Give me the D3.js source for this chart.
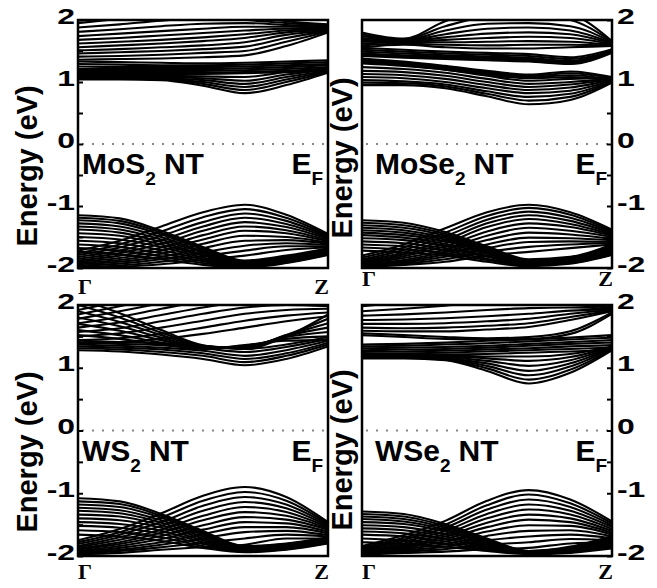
<!DOCTYPE html>
<html><head><meta charset="utf-8">
<script src="https://cdn.jsdelivr.net/npm/d3@7"></script>
<style>body{margin:0;background:#fff}svg{display:block}</style>
</head><body>
<svg id="chart" width="657" height="588"></svg>
<script>
// k-path sample positions from Γ (0) to Z (1)
const kPoints = [0, 0.167, 0.333, 0.5, 0.667, 0.833, 1];
const energyTicks = [-2, -1.5, -1, -0.5, 0, 0.5, 1, 1.5, 2];
const energyLabels = [-2, -1, 0, 1, 2];
const kLabels = ["Γ", "Z"];
const materials = ["MoS", "MoSe", "WS", "WSe"];

// ---------- MoS2 NT ----------
const mos2CondUpper = [
  [1.95, 2.02, 2.10, 2.10, 2.05, 1.98, 1.93],
  [1.88, 1.93, 1.99, 2.02, 2.00, 1.95, 1.91],
  [1.81, 1.85, 1.90, 1.94, 1.95, 1.92, 1.89],
  [1.74, 1.78, 1.82, 1.86, 1.89, 1.89, 1.87],
  [1.68, 1.71, 1.75, 1.79, 1.83, 1.86, 1.86],
  [1.62, 1.65, 1.68, 1.72, 1.77, 1.83, 1.85],
  [1.56, 1.59, 1.62, 1.66, 1.71, 1.80, 1.84],
  [1.51, 1.53, 1.56, 1.59, 1.64, 1.76, 1.83],
  [1.46, 1.48, 1.50, 1.53, 1.57, 1.71, 1.82],
  [1.41, 1.42, 1.44, 1.47, 1.50, 1.65, 1.81],
  [1.36, 1.37, 1.38, 1.40, 1.43, 1.58, 1.80]
];
const mos2CondMid = [
  [1.33, 1.32, 1.31, 1.30, 1.31, 1.33, 1.35],
  [1.29, 1.28, 1.27, 1.27, 1.28, 1.30, 1.32],
  [1.25, 1.24, 1.24, 1.24, 1.25, 1.27, 1.29],
  [1.21, 1.21, 1.21, 1.21, 1.22, 1.24, 1.27],
  [1.18, 1.18, 1.18, 1.18, 1.19, 1.21, 1.24],
  [1.15, 1.15, 1.15, 1.15, 1.16, 1.18, 1.21],
  [1.13, 1.13, 1.13, 1.13, 1.14, 1.16, 1.19]
];
const mos2CondLow = [
  [1.12, 1.11, 1.10, 1.09, 1.08, 1.16, 1.22],
  [1.10, 1.09, 1.08, 1.06, 1.02, 1.12, 1.20],
  [1.08, 1.07, 1.06, 1.03, 0.97, 1.08, 1.18],
  [1.07, 1.06, 1.05, 1.00, 0.92, 1.04, 1.17],
  [1.06, 1.05, 1.04, 0.97, 0.87, 1.00, 1.16],
  [1.04, 1.04, 1.03, 0.94, 0.82, 0.95, 1.15]
];
const mos2ValA = [
  [-1.15, -1.20, -1.40, -1.66, -1.88, -1.80, -1.68],
  [-1.19, -1.24, -1.43, -1.68, -1.89, -1.82, -1.69],
  [-1.23, -1.28, -1.46, -1.70, -1.90, -1.83, -1.70],
  [-1.28, -1.33, -1.50, -1.73, -1.91, -1.84, -1.71],
  [-1.33, -1.38, -1.54, -1.75, -1.92, -1.85, -1.72],
  [-1.38, -1.43, -1.58, -1.78, -1.93, -1.86, -1.73],
  [-1.44, -1.48, -1.62, -1.80, -1.94, -1.87, -1.74],
  [-1.50, -1.54, -1.66, -1.83, -1.95, -1.88, -1.75],
  [-1.56, -1.60, -1.71, -1.86, -1.96, -1.89, -1.76],
  [-1.62, -1.66, -1.76, -1.89, -1.97, -1.90, -1.77],
  [-1.68, -1.72, -1.81, -1.92, -1.98, -1.91, -1.78],
  [-1.74, -1.78, -1.86, -1.95, -1.99, -1.92, -1.79]
];
const mos2ValB = [
  [-1.72, -1.56, -1.33, -1.10, -0.98, -1.14, -1.45],
  [-1.76, -1.62, -1.41, -1.18, -1.05, -1.19, -1.47],
  [-1.79, -1.67, -1.48, -1.26, -1.12, -1.24, -1.49],
  [-1.82, -1.72, -1.55, -1.33, -1.19, -1.29, -1.51],
  [-1.85, -1.76, -1.61, -1.40, -1.26, -1.34, -1.53],
  [-1.88, -1.80, -1.67, -1.47, -1.33, -1.39, -1.55],
  [-1.90, -1.84, -1.72, -1.54, -1.40, -1.44, -1.57],
  [-1.92, -1.87, -1.77, -1.61, -1.48, -1.50, -1.59],
  [-1.94, -1.90, -1.82, -1.68, -1.56, -1.55, -1.61],
  [-1.96, -1.93, -1.86, -1.75, -1.64, -1.60, -1.63],
  [-1.98, -1.96, -1.90, -1.81, -1.72, -1.65, -1.65],
  [-2.00, -1.98, -1.94, -1.87, -1.80, -1.71, -1.67]
];

// ---------- MoSe2 NT ----------
const mose2CondFan = [
  [1.80, 1.70, 1.98, 2.15, 2.20, 2.10, 1.66],
  [1.77, 1.69, 1.90, 2.05, 2.08, 2.00, 1.65],
  [1.74, 1.68, 1.83, 1.94, 1.95, 1.90, 1.64],
  [1.71, 1.67, 1.77, 1.86, 1.88, 1.83, 1.63],
  [1.68, 1.66, 1.72, 1.78, 1.80, 1.77, 1.62],
  [1.65, 1.65, 1.68, 1.71, 1.73, 1.71, 1.61],
  [1.62, 1.64, 1.64, 1.65, 1.66, 1.65, 1.60],
  [1.59, 1.62, 1.60, 1.59, 1.60, 1.60, 1.59],
  [1.56, 1.60, 1.56, 1.54, 1.54, 1.56, 1.58]
];
const mose2CondWave = [
  [1.55, 1.52, 1.49, 1.47, 1.45, 1.40, 1.53],
  [1.52, 1.49, 1.46, 1.44, 1.42, 1.37, 1.51],
  [1.49, 1.46, 1.43, 1.41, 1.39, 1.34, 1.50],
  [1.46, 1.43, 1.41, 1.39, 1.37, 1.32, 1.49],
  [1.44, 1.41, 1.39, 1.37, 1.35, 1.30, 1.48],
  [1.42, 1.39, 1.37, 1.35, 1.33, 1.29, 1.47]
];
const mose2CondDiag = [
  [1.38, 1.33, 1.26, 1.18, 1.12, 1.17, 1.08],
  [1.36, 1.31, 1.24, 1.16, 1.10, 1.14, 1.06],
  [1.34, 1.29, 1.22, 1.14, 1.08, 1.11, 1.04],
  [1.32, 1.27, 1.20, 1.12, 1.06, 1.08, 1.02]
];
const mose2CondLow = [
  [1.30, 1.26, 1.20, 1.10, 1.02, 1.05, 1.06],
  [1.24, 1.21, 1.15, 1.05, 0.97, 1.00, 1.05],
  [1.18, 1.16, 1.10, 1.00, 0.92, 0.96, 1.04],
  [1.13, 1.11, 1.05, 0.95, 0.87, 0.91, 1.03],
  [1.08, 1.06, 1.00, 0.90, 0.82, 0.86, 1.02],
  [1.03, 1.01, 0.96, 0.85, 0.76, 0.81, 1.01],
  [0.99, 0.98, 0.93, 0.81, 0.70, 0.76, 1.00],
  [0.95, 0.95, 0.90, 0.77, 0.64, 0.71, 0.99]
];
const mose2ValA = [
  [-1.23, -1.27, -1.42, -1.65, -1.86, -1.82, -1.62],
  [-1.27, -1.31, -1.45, -1.67, -1.87, -1.83, -1.64],
  [-1.31, -1.35, -1.48, -1.69, -1.88, -1.84, -1.66],
  [-1.35, -1.39, -1.51, -1.71, -1.89, -1.85, -1.68],
  [-1.39, -1.43, -1.54, -1.73, -1.90, -1.86, -1.70],
  [-1.43, -1.47, -1.57, -1.75, -1.91, -1.87, -1.72],
  [-1.47, -1.51, -1.61, -1.77, -1.92, -1.88, -1.74],
  [-1.52, -1.55, -1.64, -1.80, -1.93, -1.89, -1.75],
  [-1.57, -1.60, -1.68, -1.82, -1.94, -1.90, -1.76],
  [-1.62, -1.65, -1.72, -1.85, -1.95, -1.91, -1.77],
  [-1.67, -1.70, -1.76, -1.87, -1.96, -1.92, -1.78],
  [-1.72, -1.75, -1.80, -1.90, -1.97, -1.93, -1.79]
];
const mose2ValB = [
  [-1.80, -1.62, -1.36, -1.10, -0.98, -1.10, -1.38],
  [-1.83, -1.67, -1.43, -1.16, -1.03, -1.14, -1.40],
  [-1.86, -1.71, -1.49, -1.22, -1.09, -1.19, -1.42],
  [-1.88, -1.75, -1.55, -1.28, -1.15, -1.24, -1.44],
  [-1.90, -1.78, -1.60, -1.34, -1.21, -1.29, -1.46],
  [-1.92, -1.81, -1.65, -1.41, -1.28, -1.34, -1.48],
  [-1.93, -1.84, -1.70, -1.48, -1.35, -1.40, -1.50],
  [-1.94, -1.87, -1.74, -1.55, -1.43, -1.46, -1.53],
  [-1.95, -1.89, -1.78, -1.62, -1.51, -1.52, -1.55],
  [-1.96, -1.91, -1.82, -1.68, -1.58, -1.57, -1.58],
  [-1.97, -1.93, -1.86, -1.74, -1.66, -1.62, -1.60],
  [-1.98, -1.95, -1.90, -1.80, -1.74, -1.68, -1.62]
];

// ---------- WS2 NT ----------
const ws2CondA = [
  [2.10, 1.87, 1.60, 1.36, 1.30, 1.50, 1.85],
  [2.00, 1.80, 1.56, 1.35, 1.31, 1.52, 1.78],
  [1.90, 1.73, 1.52, 1.34, 1.32, 1.52, 1.71],
  [1.80, 1.66, 1.48, 1.33, 1.33, 1.51, 1.64],
  [1.70, 1.59, 1.44, 1.32, 1.34, 1.49, 1.57],
  [1.60, 1.52, 1.40, 1.31, 1.35, 1.46, 1.50],
  [1.52, 1.46, 1.37, 1.30, 1.36, 1.43, 1.44]
];
const ws2CondB = [
  [1.92, 2.06, 2.20, 2.30, 2.35, 2.30, 2.20],
  [1.85, 1.98, 2.12, 2.25, 2.30, 2.25, 2.15],
  [1.78, 1.90, 2.03, 2.15, 2.22, 2.20, 2.10],
  [1.71, 1.81, 1.94, 2.06, 2.14, 2.14, 2.06],
  [1.64, 1.72, 1.84, 1.96, 2.05, 2.07, 2.02],
  [1.57, 1.63, 1.74, 1.86, 1.96, 2.00, 1.98],
  [1.50, 1.55, 1.64, 1.75, 1.86, 1.92, 1.94],
  [1.44, 1.47, 1.54, 1.64, 1.75, 1.83, 1.88],
  [1.39, 1.41, 1.46, 1.54, 1.64, 1.74, 1.82]
];
const ws2CondLow = [
  [1.28, 1.26, 1.21, 1.14, 1.04, 1.14, 1.34],
  [1.31, 1.29, 1.25, 1.19, 1.09, 1.19, 1.37],
  [1.34, 1.32, 1.29, 1.23, 1.14, 1.23, 1.40],
  [1.37, 1.35, 1.32, 1.27, 1.19, 1.28, 1.43],
  [1.40, 1.38, 1.36, 1.31, 1.25, 1.33, 1.46],
  [1.43, 1.41, 1.39, 1.35, 1.30, 1.37, 1.49]
];
const ws2ValA = [
  [-1.08, -1.13, -1.33, -1.60, -1.84, -1.80, -1.70],
  [-1.13, -1.17, -1.36, -1.62, -1.85, -1.81, -1.71],
  [-1.18, -1.22, -1.39, -1.64, -1.86, -1.82, -1.72],
  [-1.23, -1.27, -1.43, -1.66, -1.87, -1.83, -1.73],
  [-1.28, -1.32, -1.47, -1.69, -1.88, -1.84, -1.74],
  [-1.34, -1.37, -1.51, -1.72, -1.89, -1.85, -1.75],
  [-1.40, -1.43, -1.55, -1.75, -1.90, -1.86, -1.76],
  [-1.46, -1.49, -1.60, -1.78, -1.91, -1.87, -1.77],
  [-1.52, -1.55, -1.65, -1.81, -1.92, -1.88, -1.78],
  [-1.59, -1.62, -1.70, -1.84, -1.93, -1.89, -1.79],
  [-1.66, -1.69, -1.76, -1.87, -1.94, -1.90, -1.80]
];
const ws2ValB = [
  [-1.75, -1.57, -1.32, -1.04, -0.90, -1.06, -1.46],
  [-1.78, -1.62, -1.39, -1.12, -0.98, -1.12, -1.48],
  [-1.81, -1.66, -1.46, -1.20, -1.06, -1.18, -1.50],
  [-1.84, -1.70, -1.52, -1.28, -1.14, -1.24, -1.52],
  [-1.86, -1.74, -1.58, -1.36, -1.22, -1.30, -1.54],
  [-1.88, -1.78, -1.63, -1.43, -1.30, -1.36, -1.56],
  [-1.90, -1.81, -1.68, -1.51, -1.38, -1.42, -1.58],
  [-1.92, -1.84, -1.73, -1.58, -1.46, -1.48, -1.61],
  [-1.94, -1.87, -1.78, -1.65, -1.54, -1.54, -1.64],
  [-1.95, -1.90, -1.82, -1.72, -1.62, -1.60, -1.67],
  [-1.96, -1.92, -1.86, -1.79, -1.72, -1.66, -1.69],
  [-1.97, -1.95, -1.90, -1.86, -1.82, -1.72, -1.72]
];

// ---------- WSe2 NT ----------
const wse2CondUpper = [
  [1.98, 2.05, 2.12, 2.15, 2.12, 2.05, 1.98],
  [1.90, 1.94, 1.99, 2.03, 2.04, 2.00, 1.96],
  [1.83, 1.85, 1.88, 1.92, 1.95, 1.96, 1.94],
  [1.76, 1.77, 1.79, 1.82, 1.86, 1.91, 1.93],
  [1.70, 1.70, 1.71, 1.74, 1.78, 1.86, 1.92],
  [1.64, 1.63, 1.64, 1.67, 1.71, 1.81, 1.91],
  [1.59, 1.58, 1.58, 1.61, 1.65, 1.76, 1.90],
  [1.55, 1.52, 1.49, 1.47, 1.49, 1.58, 1.88],
  [1.52, 1.49, 1.46, 1.45, 1.46, 1.54, 1.86]
];
const wse2CondMid = [
  [1.37, 1.38, 1.40, 1.43, 1.45, 1.48, 1.52],
  [1.34, 1.35, 1.37, 1.39, 1.42, 1.45, 1.48],
  [1.31, 1.32, 1.33, 1.35, 1.38, 1.41, 1.44],
  [1.28, 1.29, 1.30, 1.32, 1.35, 1.38, 1.40],
  [1.25, 1.26, 1.27, 1.29, 1.31, 1.34, 1.36],
  [1.22, 1.23, 1.24, 1.26, 1.28, 1.30, 1.32],
  [1.19, 1.20, 1.21, 1.22, 1.24, 1.26, 1.28]
];
const wse2CondLow = [
  [1.15, 1.15, 1.12, 0.95, 0.75, 0.92, 1.28],
  [1.16, 1.16, 1.13, 0.99, 0.81, 0.97, 1.29],
  [1.17, 1.17, 1.14, 1.03, 0.88, 1.02, 1.30],
  [1.18, 1.18, 1.15, 1.07, 0.95, 1.07, 1.31],
  [1.19, 1.19, 1.17, 1.11, 1.03, 1.12, 1.32],
  [1.20, 1.20, 1.19, 1.15, 1.11, 1.17, 1.33],
  [1.21, 1.21, 1.20, 1.18, 1.18, 1.22, 1.34]
];
const wse2ValA = [
  [-1.29, -1.33, -1.49, -1.72, -1.92, -1.85, -1.68],
  [-1.33, -1.37, -1.52, -1.74, -1.92, -1.86, -1.70],
  [-1.37, -1.41, -1.55, -1.76, -1.93, -1.87, -1.72],
  [-1.41, -1.45, -1.58, -1.78, -1.93, -1.88, -1.74],
  [-1.46, -1.49, -1.61, -1.80, -1.94, -1.89, -1.76],
  [-1.51, -1.54, -1.65, -1.82, -1.94, -1.90, -1.78],
  [-1.56, -1.59, -1.69, -1.84, -1.95, -1.91, -1.80],
  [-1.61, -1.64, -1.73, -1.86, -1.95, -1.92, -1.82],
  [-1.66, -1.69, -1.77, -1.88, -1.96, -1.93, -1.84],
  [-1.72, -1.75, -1.81, -1.90, -1.96, -1.94, -1.86],
  [-1.78, -1.81, -1.85, -1.92, -1.97, -1.95, -1.88]
];
const wse2ValB = [
  [-1.84, -1.67, -1.44, -1.12, -0.95, -1.10, -1.45],
  [-1.86, -1.71, -1.50, -1.19, -1.02, -1.16, -1.48],
  [-1.88, -1.74, -1.55, -1.26, -1.10, -1.22, -1.51],
  [-1.90, -1.77, -1.60, -1.33, -1.18, -1.28, -1.54],
  [-1.91, -1.80, -1.65, -1.40, -1.26, -1.34, -1.57],
  [-1.92, -1.83, -1.69, -1.47, -1.34, -1.40, -1.60],
  [-1.93, -1.85, -1.73, -1.54, -1.42, -1.46, -1.63],
  [-1.94, -1.87, -1.77, -1.61, -1.51, -1.52, -1.66],
  [-1.95, -1.89, -1.81, -1.68, -1.60, -1.59, -1.69],
  [-1.96, -1.91, -1.85, -1.75, -1.69, -1.66, -1.72],
  [-1.97, -1.93, -1.89, -1.82, -1.78, -1.73, -1.75],
  [-1.98, -1.95, -1.93, -1.89, -1.87, -1.80, -1.78]
];

const panelBands = [
  [...mos2CondUpper, ...mos2CondMid, ...mos2CondLow, ...mos2ValA, ...mos2ValB],
  [...mose2CondFan, ...mose2CondWave, ...mose2CondDiag, ...mose2CondLow, ...mose2ValA, ...mose2ValB],
  [...ws2CondA, ...ws2CondB, ...ws2CondLow, ...ws2ValA, ...ws2ValB],
  [...wse2CondUpper, ...wse2CondMid, ...wse2CondLow, ...wse2ValA, ...wse2ValB]
];

// ---------- layout ----------
const layout = [
  {x0: 78, x1: 328, y0: 20, y1: 268, side: "left", kBase: 294, labX: 27, labY: 166},
  {x0: 362, x1: 612, y0: 20, y1: 268, side: "right", kBase: 286, labX: 342, labY: 158},
  {x0: 78, x1: 328, y0: 305, y1: 556, side: "left", kBase: 579, labX: 27, labY: 452},
  {x0: 362, x1: 612, y0: 305, y1: 556, side: "right", kBase: 579, labX: 342, labY: 450}
];

const svg = d3.select("#chart");
const FONT = "'Liberation Sans', Arial, Helvetica, sans-serif";
const SERIF = "'Liberation Serif', 'Times New Roman', serif";

layout.forEach((p, i) => {
  const x = d3.scaleLinear().domain([0, 1]).range([p.x0, p.x1]);
  const y = d3.scaleLinear().domain([-2, 2]).range([p.y1, p.y0]);
  const g = svg.append("g");

  g.append("clipPath").attr("id", "clip" + i)
    .append("rect").attr("x", p.x0).attr("y", p.y0)
    .attr("width", p.x1 - p.x0).attr("height", p.y1 - p.y0);

  const line = d3.line()
    .x((d, j) => x(kPoints[j]))
    .y(d => y(d))
    .curve(d3.curveMonotoneX);

  g.append("g").attr("clip-path", `url(#clip${i})`)
    .selectAll("path").data(panelBands[i]).join("path")
    .attr("d", line)
    .attr("fill", "none").attr("stroke", "#000")
    .attr("stroke-width", 2.1);

  // Fermi level
  g.append("line")
    .attr("x1", x(0) + 4).attr("x2", x(1) - 3)
    .attr("y1", y(0)).attr("y2", y(0))
    .attr("stroke", "#888").attr("stroke-width", 2)
    .attr("stroke-dasharray", "2,8");

  // ticks (inward)
  const axis = (p.side === "left" ? d3.axisLeft(y) : d3.axisRight(y))
    .tickValues(energyTicks).tickSize(-5).tickFormat("");
  const ag = g.append("g")
    .attr("transform", `translate(${p.side === "left" ? p.x0 : p.x1},0)`)
    .call(axis);
  ag.select(".domain").remove();
  ag.selectAll(".tick line").attr("stroke", "#000").attr("stroke-width", 2);

  // frame
  g.append("rect").attr("x", p.x0).attr("y", p.y0)
    .attr("width", p.x1 - p.x0).attr("height", p.y1 - p.y0)
    .attr("fill", "none").attr("stroke", "#000").attr("stroke-width", 2.5);

  // tick labels
  g.selectAll("text.tl").data(energyLabels).join("text")
    .attr("class", "tl")
    .attr("transform", d => {
      const tx = p.side === "left" ? p.x0 - 3 : p.x1 + 5;
      return `translate(${tx},${y(d) - 4}) scale(1.45,1)`;
    })
    .attr("text-anchor", p.side === "left" ? "end" : "start")
    .attr("dominant-baseline", "central")
    .attr("font-family", FONT).attr("font-weight", "bold")
    .attr("font-size", 22)
    .text(d => d);

  // y label
  g.append("text")
    .attr("transform", `translate(${p.labX + 10},${p.labY}) rotate(-90)`)
    .attr("text-anchor", "middle")
    .attr("font-family", FONT).attr("font-weight", "bold")
    .attr("font-size", 29)
    .text("Energy (eV)");

  // k labels
  g.append("text").attr("x", p.x0).attr("y", p.kBase)
    .attr("font-family", SERIF).attr("font-weight", "bold").attr("font-size", 22)
    .text(kLabels[0]);
  g.append("text").attr("x", p.x1 + 1).attr("y", p.kBase)
    .attr("text-anchor", "end")
    .attr("font-family", SERIF).attr("font-weight", "bold").attr("font-size", 22)
    .text(kLabels[1]);

  // panel label
  const base = y(0) + 30;
  const t = g.append("text")
    .attr("x", p.x0 + (p.side === "left" ? 4 : 13)).attr("y", base)
    .attr("font-family", FONT).attr("font-weight", "bold").attr("font-size", 30);
  t.append("tspan").text(materials[i]);
  t.append("tspan").attr("font-size", 19).attr("dy", 11).text("2");
  t.append("tspan").attr("dy", -11).attr("dx", 8).text("NT");

  // E_F
  const ef = g.append("text")
    .attr("x", p.x1 - 5).attr("y", base)
    .attr("text-anchor", "end")
    .attr("font-family", FONT).attr("font-weight", "bold").attr("font-size", 30);
  ef.append("tspan").text("E");
  ef.append("tspan").attr("font-size", 19).attr("dy", 11).text("F");
});
</script>
</body></html>
